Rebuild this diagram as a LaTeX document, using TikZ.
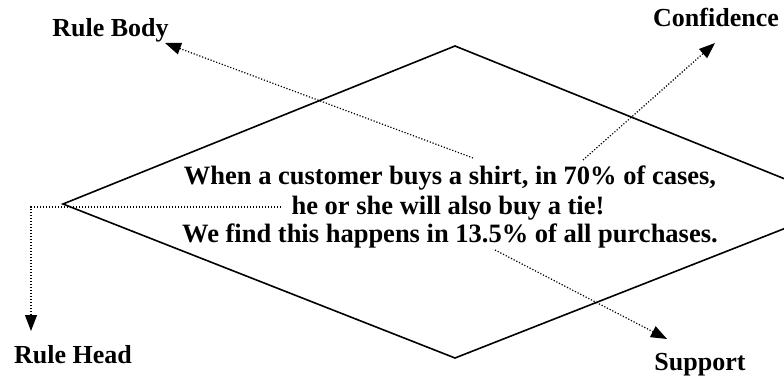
\documentclass[tikz,border=0pt]{standalone}
\usepackage{fontspec}
\setmainfont{Liberation Serif}
\usetikzlibrary{arrows.meta}
\begin{document}
\begin{tikzpicture}[x=1pt,y=-1pt,
  lbl/.style={font=\fontsize{26}{29}\selectfont\bfseries, inner sep=0pt, anchor=base},
  txtline/.style={font=\fontsize{26.5}{29}\selectfont\bfseries, inner sep=0pt, anchor=base},
  conn/.style={line width=1.2pt, dash pattern=on 1.2pt off 1.8pt, -{Triangle[length=16pt,width=12pt]}},
  rhomb/.style={line width=1.6pt}]
\useasboundingbox (0,0) rectangle (784,379);
\begin{scope}
\clip (0,0) rectangle (784,379);
\draw[rhomb] (63,204) -- (455,46) -- (847,204) -- (455,358) -- cycle;
\end{scope}
\node[txtline] (l1) at (450,185) {When a customer buys a shirt, in 70\% of cases,};
\node[txtline] (l2) at (448,215) {he or she will also buy a tie!};
\node[txtline] (l3) at (450,243) {We find this happens in 13.5\% of all purchases.};
\node[lbl] (body) at (110.5,37) {Rule Body};
\node[lbl] (conf) at (716,27) {Confidence};
\node[lbl] (head) at (73,363) {Rule Head};
\node[lbl] (supp) at (700,370) {Support};
\coordinate (bodyS) at (473,158);
\coordinate (bodyT) at (165,43);
\coordinate (confS) at (583,160);
\coordinate (confT) at (715,43);
\coordinate (headS) at (281,207);
\coordinate (headC) at (31,207);
\coordinate (headT) at (31,331);
\coordinate (suppS) at (495,250);
\coordinate (suppT) at (667,339);
\draw[conn] (bodyS) -- (bodyT);
\draw[conn] (confS) -- (confT);
\draw[conn] (headS) -- (headC) -- (headT);
\draw[conn] (suppS) -- (suppT);
\end{tikzpicture}
\end{document}
